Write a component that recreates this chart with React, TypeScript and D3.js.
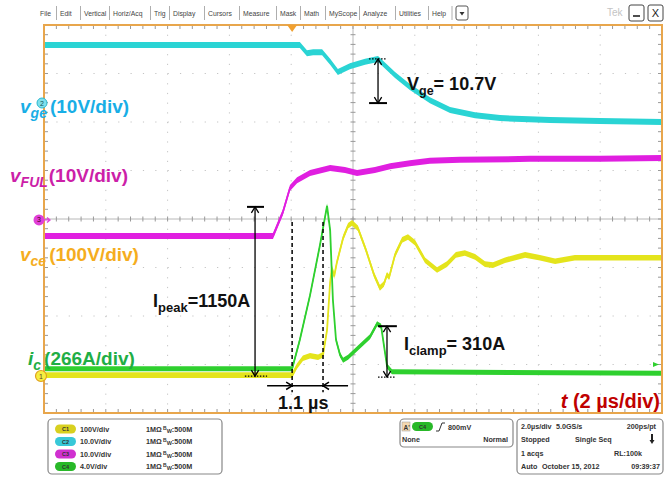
import * as d3 from 'd3';

// time in µs (2 µs/div), value in screen divisions (0 = centre line)
const vgeTrace: [number, number][] = [
  [0, 3.59], [8.28, 3.59], [8.51, 3.42], [8.71, 3.44], [9.0, 3.44], [9.26, 3.24], [9.51, 3.03],
  [9.9, 3.15], [10.39, 3.24], [10.81, 3.3], [11.36, 2.97], [11.84, 2.72], [12.49, 2.45],
  [13.14, 2.25], [13.95, 2.14], [14.76, 2.08], [16.38, 2.04], [17.99, 2.02], [20, 2.0],
];
const vfulTrace: [number, number][] = [
  [0, -0.35], [7.41, -0.35], [7.73, 0.14], [7.96, 0.64], [8.19, 0.8], [8.61, 0.95], [9.26, 1.05],
  [9.74, 1.01], [10.13, 0.95], [10.71, 1.01], [11.2, 1.09], [11.84, 1.15], [12.49, 1.2],
  [13.46, 1.22], [15.73, 1.24], [17.99, 1.24], [20, 1.26],
];
const vceTrace: [number, number][] = [
  [0, -3.22], [8.03, -3.22], [8.19, -3.03], [8.38, -2.87], [8.61, -2.82], [8.87, -2.85],
  [9.03, -2.8], [9.16, -2.29], [9.26, -1.3], [9.32, -1.01], [9.39, -1.18], [9.48, -0.89],
  [9.68, -0.39], [9.84, -0.14], [9.97, -0.08], [10.16, -0.19], [10.42, -0.64], [10.68, -1.15],
  [10.87, -1.42], [11.0, -1.34], [11.1, -1.15], [11.17, -1.2], [11.36, -0.74], [11.59, -0.43],
  [11.78, -0.37], [12.01, -0.49], [12.33, -0.85], [12.72, -1.05], [13.04, -0.93], [13.33, -0.74],
  [13.62, -0.7], [13.95, -0.78], [14.27, -0.93], [14.53, -0.95], [14.92, -0.85], [15.57, -0.74],
  [16.05, -0.8], [16.54, -0.87], [17.18, -0.8], [20, -0.8],
];
const icTrace: [number, number][] = [
  [0, -3.09], [8.03, -3.09], [8.28, -2.49], [8.61, -1.57], [8.93, -0.54], [9.16, 0.27],
  [9.26, -0.23], [9.35, -1.67], [9.45, -2.49], [9.58, -2.8], [9.68, -2.91], [9.84, -2.85],
  [10.16, -2.66], [10.55, -2.43], [10.78, -2.16], [10.91, -2.21], [11.0, -2.6], [11.1, -3.03],
  [11.26, -3.15], [20, -3.18],
];

const menuItems = ['File', 'Edit', 'Vertical', 'Horiz/Acq', 'Trig', 'Display', 'Cursors', 'Measure',
  'Mask', 'Math', 'MyScope', 'Analyze', 'Utilities', 'Help'];
const menuX = [40, 60, 84, 113, 154, 173, 208, 243, 280, 304, 329, 363, 399, 432];

const chanScales = ['100V/div', '10.0V/div', '10.0V/div', '4.0V/div'];
const chanNames = ['C1', 'C2', 'C3', 'C4'];

const W = 671;
const H = 477;
const L = 44, R = 662, T = 25, B = 413;
const FONT = "Arial, 'Liberation Sans', sans-serif";

const cyan = '#2ad4d4';
const magenta = '#e01fe0';
const yellow = '#e4e41c';
const green = '#2fd02f';
const orange = '#e8a64c';

function arrowHead(px: number, py: number, dx: number, dy: number, size = 7) {
  // open V head pointing in direction (dx,dy) with its tip at (px,py)
  const a = Math.atan2(dy, dx);
  const s = 0.55;
  const x1 = px - size * Math.cos(a - s), y1 = py - size * Math.sin(a - s);
  const x2 = px - size * Math.cos(a + s), y2 = py - size * Math.sin(a + s);
  return `M${x1},${y1}L${px},${py}L${x2},${y2}`;
}

export default function App() {
  const x = d3.scaleLinear().domain([0, 20]).range([L, R]);
  const y = d3.scaleLinear().domain([-4, 4]).range([B, T]);

  const trace = (data: [number, number][], band: number, color: string) => {
    const area = d3.area<[number, number]>()
      .x(d => x(d[0]))
      .y0(d => y(d[1]) + band)
      .y1(d => y(d[1]) - band);
    const line = d3.line<[number, number]>().x(d => x(d[0])).y(d => y(d[1]));
    return (
      <g>
        <path d={area(data) || ''} fill={color} />
        <path d={line(data) || ''} fill="none" stroke={color} strokeWidth={1.8} />
      </g>
    );
  };

  const xDivs = d3.range(11).map(i => L + (i * (R - L)) / 10);
  const yDivs = d3.range(9).map(i => T + (i * (B - T)) / 8);
  const dx5 = (R - L) / 50;
  const dy5 = (B - T) / 40;
  const xMinor = d3.range(51).map(i => L + i * dx5);
  const yMinor = d3.range(41).map(i => T + i * dy5);
  const cx = xDivs[5], cy = yDivs[4];

  // annotation helpers
  const vArrow = (t: number, v1: number, v2: number) => {
    const px = x(t), ya = y(v1), yb = y(v2);
    return (
      <g stroke="#000" strokeWidth={1.3} fill="none">
        <line x1={px} x2={px} y1={ya} y2={yb} />
        <path d={arrowHead(px, ya, 0, -1)} />
        <path d={arrowHead(px, yb, 0, 1)} />
      </g>
    );
  };
  const hBar = (t1: number, t2: number, v: number, dotted = false) => (
    <line x1={x(t1)} x2={x(t2)} y1={y(v)} y2={y(v)} stroke="#000"
      strokeWidth={dotted ? 1.3 : 2} strokeDasharray={dotted ? '1.5,1.5' : undefined} />
  );

  const dimY = y(-3.44);

  return (
    <svg width={W} height={H} style={{ position: 'absolute', left: 0, top: 0, background: '#fff' }}
      fontFamily={FONT}>
      <rect width={W} height={H} fill="#fff" />

      {/* menu bar */}
      <g fontSize={6.8} fill="#444">
        {menuItems.map((m, i) => (
          <g key={m}>
            <text x={menuX[i]} y={16}>{m}</text>
            {i > 0 && <line x1={menuX[i] - 3.5} x2={menuX[i] - 3.5} y1={6} y2={20} stroke="#999" strokeWidth={0.8} />}
          </g>
        ))}
        <line x1={452} x2={452} y1={6} y2={20} stroke="#999" strokeWidth={0.8} />
        <rect x={456} y={6} width={12} height={14} rx={2} fill="#fff" stroke="#555" strokeWidth={1} />
        <path d="M459.5,12L464.5,12L462,15.5Z" fill="#333" />
        <text x={607} y={16} fontSize={10} fill="#c4c4c4">Tek</text>
        <rect x={629} y={5} width={15} height={16} rx={2} fill="#fff" stroke="#444" strokeWidth={1} />
        <line x1={633} x2={640} y1={16} y2={16} stroke="#222" strokeWidth={1.6} />
        <rect x={648} y={5} width={15} height={16} rx={2} fill="#fff" stroke="#444" strokeWidth={1} />
        <text x={655.5} y={17} fontSize={11} textAnchor="middle" fill="#222">X</text>
      </g>

      {/* graticule */}
      <g stroke="#c4c4c4" strokeWidth={1}>
        {xDivs.slice(1, 10).filter((_, i) => i !== 4).map(px => (
          <line key={'v' + px} x1={px} x2={px} y1={T} y2={B} strokeDasharray={`1.2,${dy5 - 1.2}`} />
        ))}
        {yDivs.slice(1, 8).filter((_, i) => i !== 3).map(py => (
          <line key={'h' + py} x1={L} x2={R} y1={py} y2={py} strokeDasharray={`1.2,${dx5 - 1.2}`} />
        ))}
        <line x1={cx} x2={cx} y1={T} y2={B} stroke="#b8b8b8" />
        <line x1={L} x2={R} y1={cy} y2={cy} stroke="#b8b8b8" />
        {xMinor.map(px => (
          <g key={'xm' + px}>
            <line x1={px} x2={px} y1={T} y2={T + 4} stroke="#999" />
            <line x1={px} x2={px} y1={B - 4} y2={B} stroke="#999" />
            <line x1={px} x2={px} y1={cy - 2.5} y2={cy + 2.5} stroke="#999" />
          </g>
        ))}
        {yMinor.map(py => (
          <g key={'ym' + py}>
            <line x1={L} x2={L + 4} y1={py} y2={py} stroke="#999" />
            <line x1={R - 4} x2={R} y1={py} y2={py} stroke="#999" />
            <line x1={cx - 2.5} x2={cx + 2.5} y1={py} y2={py} stroke="#999" />
          </g>
        ))}
      </g>

      {/* traces */}
      {trace(vgeTrace, 3, cyan)}
      {trace(vfulTrace, 3, magenta)}
      {trace(vceTrace, 2.8, yellow)}
      {trace(icTrace, 2.5, green)}

      {/* border */}
      <rect x={L} y={T} width={R - L} height={B - T} fill="none" stroke={orange} strokeWidth={2} />
      <path d={`M${x(8.03) - 5},${T}L${x(8.03) + 5},${T}L${x(8.03)},${T + 7}Z`} fill="#f0a030" />

      {/* channel markers */}
      <circle cx={42} cy={103} r={5} fill="#7fe0ec" stroke="#2ab8d0" strokeWidth={1} />
      <text x={42} y={105.5} fontSize={7} textAnchor="middle" fill="#155">2</text>
      <circle cx={39} cy={y(-0.02)} r={5.5} fill="#e040d8" />
      <text x={39} y={y(-0.02) + 2.5} fontSize={7} textAnchor="middle" fill="#402">3</text>
      <path d={`M44,${y(-0.02)}L50,${y(-0.02)}M47,${y(-0.02) - 2.5}L50,${y(-0.02)}L47,${y(-0.02) + 2.5}`} stroke="#e040d8" strokeWidth={1.3} fill="none" />
      <circle cx={41} cy={376} r={5.5} fill="#f6ee40" stroke="#e0a020" strokeWidth={1.2} />
      <text x={41} y={378.5} fontSize={7} textAnchor="middle" fill="#543">1</text>
      <path d={`M${R - 3},${y(-3.0)}L${R - 9},${y(-3.0) - 2.5}L${R - 9},${y(-3.0) + 2.5}Z`} fill={green} />

      {/* annotations */}
      {hBar(10.52, 11.1, 3.3, true)}
      {hBar(10.52, 11.1, 2.39)}
      {vArrow(10.81, 3.3, 2.39)}

      {hBar(6.57, 7.12, 0.25)}
      {hBar(6.5, 7.22, -3.24, true)}
      {vArrow(6.83, 0.25, -3.24)}

      {hBar(10.81, 11.42, -2.21)}
      {hBar(10.81, 11.39, -3.26, true)}
      {vArrow(11.1, -2.21, -3.26)}

      <g stroke="#000" strokeWidth={1.5} strokeDasharray="4,3">
        <line x1={x(8.03)} x2={x(8.03)} y1={y(-0.06)} y2={y(-3.57)} />
        <line x1={x(9.03)} x2={x(9.03)} y1={y(-0.06)} y2={y(-3.57)} />
      </g>
      <g stroke="#000" strokeWidth={1.5} fill="none">
        <line x1={x(7.22)} x2={x(9.84)} y1={dimY} y2={dimY} />
        <path d={arrowHead(x(8.03), dimY, 1, 0)} />
        <path d={arrowHead(x(9.03), dimY, -1, 0)} />
      </g>

      {/* labels */}
      <g fontWeight="bold">
        <text x={407} y={90} fontSize={18} fill="#111">V<tspan fontSize={12.5} dy={5}>ge</tspan><tspan dy={-5}>= 10.7V</tspan></text>
        <text x={153} y={307} fontSize={18} fill="#111">I<tspan fontSize={13} dy={5}>peak</tspan><tspan dy={-5}>=1150A</tspan></text>
        <text x={404} y={350} fontSize={18} fill="#111">I<tspan fontSize={13} dy={5}>clamp</tspan><tspan dy={-5}>= 310A</tspan></text>
        <text x={278} y={409} fontSize={18} fill="#111">1.1 µs</text>

        <text x={20} y={113} fontSize={19} fill="#18aee6"><tspan fontStyle="italic">v</tspan><tspan fontSize={14} fontStyle="italic" dy={5}>ge</tspan><tspan dy={-5} dx={3}>(10V/div)</tspan></text>
        <text x={10} y={182} fontSize={19} fill="#cc1fa8"><tspan fontStyle="italic">v</tspan><tspan fontSize={14} fontStyle="italic" dy={5}>FUL</tspan><tspan dy={-5} dx={1}>(10V/div)</tspan></text>
        <text x={20} y={261} fontSize={19} fill="#f5ad1e"><tspan fontStyle="italic">v</tspan><tspan fontSize={14} fontStyle="italic" dy={5}>ce</tspan><tspan dy={-5} dx={3}>(100V/div)</tspan></text>
        <text x={28} y={365} fontSize={19} fill="#1fae45"><tspan fontStyle="italic">i</tspan><tspan fontSize={14} fontStyle="italic" dy={5}>c</tspan><tspan dy={-5} dx={3}>(266A/div)</tspan></text>
        <text x={660} y={408} fontSize={20} fill="#c00000" textAnchor="end"><tspan fontStyle="italic">t</tspan> (2 µs/div)</text>
      </g>

      {/* status panels */}
      <g fontSize={7.2} fontWeight="bold" fill="#333">
        <rect x={48} y={419} width={174} height={55} rx={4} fill="#fff" stroke="#888" strokeWidth={1.2} />
        {chanNames.map((c, i) => {
          const py = 429 + i * 12.5;
          const col = ['#d8d020', '#38c8d8', '#d030d0', '#28b828'][i];
          return (
            <g key={c}>
              <rect x={55} y={py - 4.5} width={21} height={9} rx={4.5} fill={col} />
              <text x={65.5} y={py + 2} fontSize={5.5} textAnchor="middle" fill="#333">{c}</text>
              <text x={80} y={py + 2.5}>{chanScales[i]}</text>
              <text x={146} y={py + 2.5}>1MΩ</text>
              <text x={163} y={py + 2.5}><tspan fontSize={5} dy={-2}>B</tspan><tspan fontSize={5.5} dy={3}>W</tspan><tspan dy={-1}>:500M</tspan></text>
            </g>
          );
        })}

        <rect x={400} y={419} width={113} height={28} rx={4} fill="#fff" stroke="#888" strokeWidth={1.2} />
        <rect x={402} y={422} width={8} height={9} fill="#f4d8b0" stroke="#999" strokeWidth={0.5} />
        <text x={403.5} y={429.5} fontSize={6.5}>A'</text>
        <rect x={412} y={422} width={21} height={9} rx={4.5} fill="#28b828" />
        <text x={422.5} y={428.8} fontSize={5.5} textAnchor="middle">C4</text>
        <path d="M436,431L439,431L442,423L445,423" stroke="#333" strokeWidth={1} fill="none" />
        <text x={448} y={429.5}>800mV</text>
        <text x={402} y={442}>None</text>
        <text x={508} y={442} textAnchor="end">Normal</text>

        <rect x={517} y={419} width={146} height={55} rx={4} fill="#fff" stroke="#888" strokeWidth={1.2} />
        <text x={521} y={429}>2.0µs/div</text>
        <text x={556} y={429}>5.0GS/s</text>
        <text x={656} y={429} textAnchor="end">200ps/pt</text>
        <text x={521} y={442}>Stopped</text>
        <text x={575} y={442}>Single Seq</text>
        <path d="M652,434L652,442" stroke="#222" strokeWidth={2} />
        <path d="M649.5,440L654.5,440L652,444Z" fill="#222" />
        <text x={521} y={456}>1 acqs</text>
        <text x={642} y={456} textAnchor="end">RL:100k</text>
        <text x={521} y={469}>Auto</text>
        <text x={542} y={469}>October 15, 2012</text>
        <text x={660} y={469} textAnchor="end">09:39:37</text>
      </g>
    </svg>
  );
}
